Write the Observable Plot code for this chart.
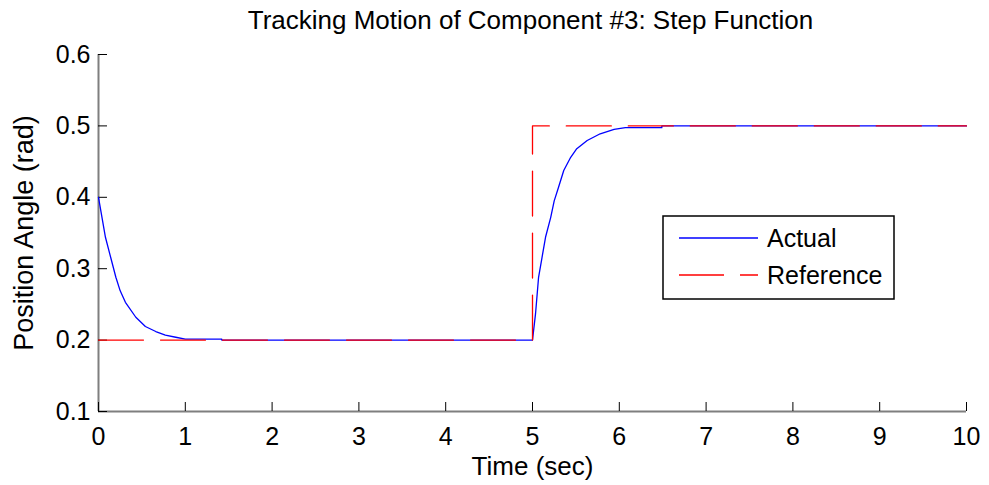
<!DOCTYPE html>
<html><head><meta charset="utf-8">
<script src="https://cdn.jsdelivr.net/npm/d3@7"></script>
<script src="https://cdn.jsdelivr.net/npm/@observablehq/plot@0.6"></script>
<style>
body{margin:0;background:#fff;}
#wrap{position:relative;width:989px;height:485px;font-family:"Liberation Sans",Arial,sans-serif;}
#legend{position:absolute;left:0;top:0;pointer-events:none;}
</style></head><body><div id="wrap"></div>
<script>
const title = "Tracking Motion of Component #3: Step Function";
const xLabel = "Time (sec)";
const yLabel = "Position Angle (rad)";
const xDomain = [0, 10];
const yDomain = [0.1, 0.6];
const xTicks = [0,1,2,3,4,5,6,7,8,9,10];
const yTicks = [0.1,0.2,0.3,0.4,0.5,0.6];
const seriesNames = ["Actual", "Reference"];
const seriesColors = ["#0000ff", "#ff0000"];
const actualT = [0, 0.08, 0.14, 0.2, 0.25, 0.31, 0.43, 0.54, 0.66, 0.77, 0.89, 1.0, 1.42, 1.42, 5.0, 5.035, 5.07, 5.11, 5.15, 5.21, 5.25, 5.3, 5.36, 5.44, 5.51, 5.63, 5.78, 5.94, 6.07, 6.49, 6.49, 10];
const actualV = [0.4, 0.344, 0.316, 0.288, 0.269, 0.253, 0.232, 0.219, 0.212, 0.207, 0.204, 0.2015, 0.2015, 0.2, 0.2, 0.237, 0.288, 0.316, 0.344, 0.372, 0.395, 0.414, 0.4375, 0.456, 0.468, 0.4795, 0.489, 0.495, 0.4975, 0.4975, 0.5, 0.5];
const refT = [0, 5, 5, 10];
const refV = [0.2, 0.2, 0.5, 0.5];

const actual = actualT.map((t, i) => ({t, v: actualV[i]}));
const reference = refT.map((t, i) => ({t, v: refV[i]}));

const chart = Plot.plot({
  width: 989, height: 485,
  marginLeft: 98, marginRight: 23, marginTop: 54, marginBottom: 74,
  style: {fontFamily: "'Liberation Sans', Arial, sans-serif", fontSize: "25px", color: "#000", background: "#fff"},
  x: {domain: xDomain},
  y: {domain: yDomain},
  marks: [
    Plot.ruleX([xDomain[0]], {stroke: "#7f7f7f", strokeWidth: 2}),
    Plot.ruleY([yDomain[0]], {stroke: "#7f7f7f", strokeWidth: 2}),
    Plot.axisX({ticks: xTicks, tickSize: -9, tickPadding: 25, tickFormat: d => String(d), label: null, stroke: "#000", fill: "#000"}),
    Plot.axisY({ticks: yTicks, tickSize: -9, tickPadding: 17, tickFormat: d3.format(".1f"), label: null, stroke: "#000", fill: "#000"}),
    Plot.axisX({ticks: [], tickSize: 0, label: xLabel, labelAnchor: "center", labelOffset: 63, labelArrow: "none", fontSize: 26, fill: "#000"}),
    Plot.axisY({ticks: [], tickSize: 0, label: yLabel, labelAnchor: "center", labelOffset: 85, labelArrow: "none", fontSize: 27, fill: "#000"}),
    Plot.line(actual, {x: "t", y: "v", stroke: seriesColors[0], strokeWidth: 1.3}),
    Plot.line(reference, {x: "t", y: "v", stroke: seriesColors[1], strokeWidth: 1.3, strokeDasharray: "45,17"}),
    Plot.text([title], {frameAnchor: "top", dx: -2, dy: -25.7, lineAnchor: "bottom", fontSize: 26, fill: "#000"})
  ]
});
const wrap = document.getElementById("wrap");
wrap.appendChild(chart);

// legend overlay
const ns = "http://www.w3.org/2000/svg";
const lg = document.createElementNS(ns, "svg");
lg.setAttribute("id", "legend");
lg.setAttribute("width", 989); lg.setAttribute("height", 485);
const box = document.createElementNS(ns, "rect");
box.setAttribute("x", 663); box.setAttribute("y", 216); box.setAttribute("width", 231); box.setAttribute("height", 83);
box.setAttribute("fill", "#fff"); box.setAttribute("stroke", "#000"); box.setAttribute("stroke-width", 1.5);
lg.appendChild(box);
const rowY = [238, 275];
const dashes = [null, "45,16"];
seriesNames.forEach((name, i) => {
  const l = document.createElementNS(ns, "line");
  l.setAttribute("x1", 679); l.setAttribute("x2", 758);
  l.setAttribute("y1", rowY[i]); l.setAttribute("y2", rowY[i]);
  l.setAttribute("stroke", seriesColors[i]); l.setAttribute("stroke-width", 1.3);
  if (dashes[i]) l.setAttribute("stroke-dasharray", dashes[i]);
  lg.appendChild(l);
  const t = document.createElementNS(ns, "text");
  t.setAttribute("x", 767); t.setAttribute("y", rowY[i] + 9);
  t.setAttribute("font-size", 25); t.setAttribute("font-family", "'Liberation Sans', Arial, sans-serif");
  t.setAttribute("fill", "#000");
  t.textContent = name;
  lg.appendChild(t);
});
wrap.appendChild(lg);
</script></body></html>
